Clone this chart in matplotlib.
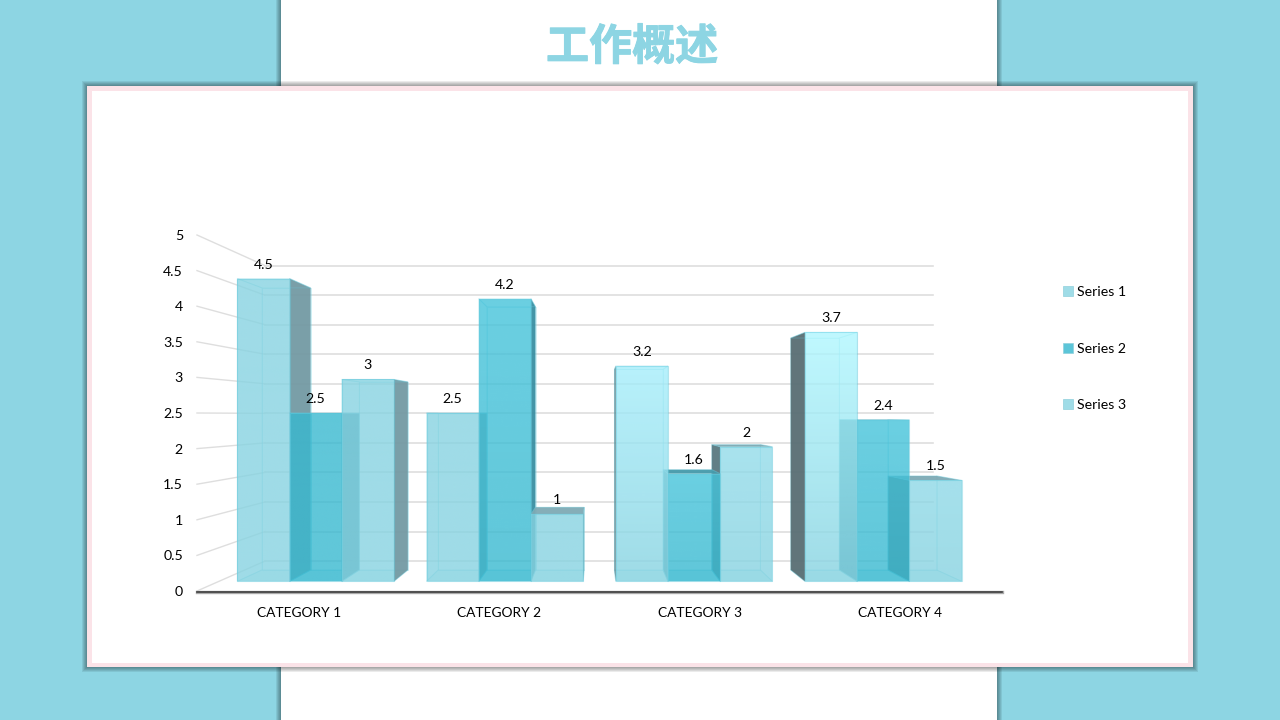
import numpy as np
import matplotlib
matplotlib.use('Agg')
import matplotlib.pyplot as plt
import matplotlib.patheffects as pe
from matplotlib.colors import to_rgb
from matplotlib.patches import Polygon, Rectangle

plt.rcParams['font.family'] = ['Lato', 'DejaVu Sans']

# Chart data
categories = ['CATEGORY 1', 'CATEGORY 2', 'CATEGORY 3', 'CATEGORY 4']
series_names = ['Series 1', 'Series 2', 'Series 3']
series1 = [4.5, 2.5, 3.2, 3.7]
series2 = [2.5, 4.2, 1.6, 2.4]
series3 = [3, 1, 2, 1.5]
value_ticks = [0, 0.5, 1, 1.5, 2, 2.5, 3, 3.5, 4, 4.5, 5]
value_labels = ['0', '0.5', '1', '1.5', '2', '2.5', '3', '3.5', '4', '4.5', '5']

TEAL = '#8DD5E3'
GRID = '#DEDEDE'

# Perspective set up of the 3D chart box (pixels of the slide)
X0, CAT_W = 199.2, 200.2
Y0, UNIT = 591, 71.2
VP_X, VP_Y = 597, 415
PERSP = 0.2048
Z_FRONT, Z_BACK = 0.284, 0.665
BAR_W = 0.276
WALL_L, WALL_R = -0.011, 4.011


def project(c, v, z):
    s = 1 / (1 + PERSP * z)
    return VP_X + s * (X0 + c * CAT_W - VP_X), VP_Y + s * (Y0 - v * UNIT - VP_Y)


# colours for each series: over-white front colour, sides, top
front_col = ['#87D3E1', '#38B9D0', '#87D3E1']
right_col = ['#739AA3', '#3A8FA2', '#739AA3']
left_col = ['#586E73', '#3A8FA2', '#5A7880']
top_col = ['#7FAAB4', '#469BAC', '#7FAAB4']
# lighter tops for the gradients: per category, per series
grad_top = [['#87D3E1', '#38B9D0', '#87D3E1'],
            ['#87D3E1', '#46C4DB', '#87D3E1'],
            ['#A6EEFB', '#46C4DB', '#93DCEA'],
            ['#B0F7FF', '#46C4DB', '#8FD9E7']]

fig = plt.figure(figsize=(12.8, 7.2), dpi=100, facecolor=TEAL)
ax = fig.add_axes([0, 0, 1, 1])
ax.set_axis_off()

# background panels
ax.add_patch(Rectangle((0, 0), 1280, 720, fc=TEAL, ec='none', zorder=0))
for i in range(1, 6):
    ax.add_patch(Rectangle((281 - i, 0), 716 + 2 * i, 720, fc='black', ec='none', alpha=0.08, zorder=0))
ax.add_patch(Rectangle((281, 0), 716, 720, fc='white', ec='none', zorder=0))

# card with its shadow and pink border
for i in range(1, 6):
    ax.add_patch(Rectangle((87 - i, 86 - i), 1106 + 2 * i, 581 + 2 * i, fc='black', ec='none', alpha=0.08, zorder=0))
ax.add_patch(Rectangle((87, 86), 1106, 581, fc='#FBE3E8', ec='none', zorder=0))
ax.add_patch(Rectangle((92, 91), 1096, 572, fc='white', ec='none', zorder=0))

ax.text(632, 47, '工作概述', family=['Noto Sans CJK SC', 'DejaVu Sans'], fontsize=31, fontweight='bold',
        color=TEAL, ha='center', va='center',
        path_effects=[pe.withStroke(linewidth=0.7, foreground=TEAL)])

# walls
for v, lab in zip(value_ticks, value_labels):
    xf, yf = project(WALL_L, v, 0)
    xb, yb = project(WALL_L, v, 1)
    xr, yr = project(WALL_R, v, 1)
    ax.plot([xf, xb], [yf, yb], color=GRID, lw=1, zorder=1)
    ax.plot([xb, xr], [yb, yr], color=GRID, lw=1.2, zorder=1)
    ax.text(xf - 14, yf + 1, lab, fontsize=10.2, color='black', ha='right', va='center')

xa0, ya0 = project(WALL_L, 0, 0)
xa1, ya1 = project(WALL_R, 0, 0)
ax.plot([xa0, xa1], [ya0 + 0.5, ya1 + 0.5], color='#AAAAAA', lw=2.4, zorder=1.5)
ax.plot([xa0, xa1], [ya0 + 0.5, ya1 + 0.5], color='#404040', lw=1.2, zorder=1.6)

for i, cat in enumerate(categories):
    xc, yc = project(i + 0.5, 0, 0)
    ax.text(xc, 613, cat, fontsize=9.9, color='black', ha='center', va='center')


def flat_face(pts, color, alpha, edge_alpha=0.3):
    r, g, b = to_rgb(color)
    ax.add_patch(Polygon(pts, closed=True, fc=(r, g, b, alpha), ec=(0.42, 0.80, 0.87, edge_alpha), lw=0.7, zorder=3))


def gradient_face(pts, top, bottom, alpha):
    pts = np.array(pts)
    ramp = np.linspace(0, 1, 64)[:, None]
    rgba = np.ones((64, 1, 4))
    rgba[:, :, :3] = (1 - ramp[:, None]) * np.array(to_rgb(top)) + ramp[:, None] * np.array(to_rgb(bottom))
    rgba[:, :, 3] = alpha
    ext = (pts[:, 0].min(), pts[:, 0].max(), pts[:, 1].max(), pts[:, 1].min())
    clip = Polygon(pts, closed=True, transform=ax.transData)
    im = ax.imshow(rgba, extent=ext, origin='upper', aspect='auto', interpolation='bilinear', zorder=3)
    im.set_clip_path(clip)
    ax.add_patch(Polygon(pts, closed=True, fc='none', ec=(0.42, 0.80, 0.87, 0.45), lw=0.8, zorder=3))


def draw_bar(cat_i, ser_i, value):
    c0 = cat_i + 0.5 + (ser_i - 1.5) * BAR_W
    c1 = c0 + BAR_W
    fl = project(c0, 0, Z_FRONT)
    fr = project(c1, 0, Z_FRONT)
    ftl = project(c0, value, Z_FRONT)
    ftr = project(c1, value, Z_FRONT)
    bl = project(c0, 0, Z_BACK)
    br = project(c1, 0, Z_BACK)
    btl = project(c0, value, Z_BACK)
    btr = project(c1, value, Z_BACK)

    # hidden edges and floor first
    flat_face([bl, br, btr, btl], front_col[ser_i], 0.0)
    flat_face([fl, fr, br, bl], front_col[ser_i], 0.2)
    # the sides that face the viewer get filled, the others just show their edges
    flat_face([fl, bl, btl, ftl], left_col[ser_i], 0.95 if fl[0] > bl[0] else 0.0)
    flat_face([fr, br, btr, ftr], right_col[ser_i], 0.95 if fr[0] < br[0] else 0.0)
    flat_face([ftl, ftr, btr, btl], top_col[ser_i], 0.95 if ftl[1] > btl[1] else 0.0)
    gradient_face([fl, fr, ftr, ftl], grad_top[cat_i][ser_i], front_col[ser_i], 0.8)

    ax.text((ftl[0] + ftr[0]) / 2, ftl[1] - 14, f'{value:g}', fontsize=10.2, color='black',
            ha='center', va='center', zorder=6)


all_series = [series1, series2, series3]
for i in range(len(categories)):
    # painter's order: the ones next to the vanishing point overlap the others
    order = [0, 1, 2] if i < 2 else [2, 1, 0]
    for j in order:
        draw_bar(i, j, all_series[j][i])

# legend
legend_y = [291, 348, 404]
legend_col = ['#9FDCE7', '#5CC5D8', '#9FDCE7']
for name, ly, col in zip(series_names, legend_y, legend_col):
    ax.add_patch(Rectangle((1063, ly - 5), 10, 10, fc=col, ec='#8FD0DC', lw=0.5, zorder=3))
    ax.text(1077, ly + 1, name, fontsize=10.2, color='black', ha='left', va='center')

ax.set_xlim(0, 1280)
ax.set_ylim(720, 0)
fig.savefig('out.png', dpi=100)
